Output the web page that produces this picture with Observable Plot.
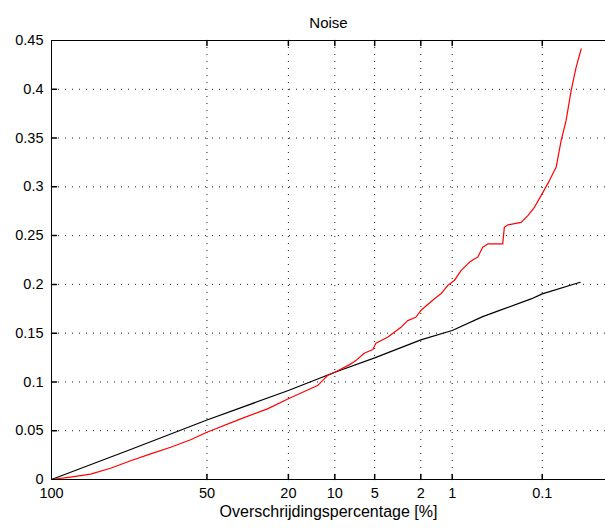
<!DOCTYPE html>
<html>
<head>
<meta charset="utf-8">
<script src="https://cdn.jsdelivr.net/npm/d3@7"></script>
<script src="https://cdn.jsdelivr.net/npm/@observablehq/plot@0.6"></script>
<style>
  html, body { margin: 0; padding: 0; background: white; }
</style>
</head>
<body>
<div id="chart"></div>
<script>
// Exceedance percentages (x) and values (y)
const pctTicks = [100, 50, 20, 10, 5, 2, 1, 0.1];
const pctTickLabels = ["100", "50", "20", "10", "5", "2", "1", "0.1"];
const yTicks = [0, 0.05, 0.1, 0.15, 0.2, 0.25, 0.3, 0.35, 0.4, 0.45];
const yTickLabels = ["0", "0.05", "0.1", "0.15", "0.2", "0.25", "0.3", "0.35", "0.4", "0.45"];

const redPct = [100, 98.97, 95.72, 90.47, 83.58, 75.44, 66.56, 57.38, 50, 35.81, 26.24, 20, 13.13, 12.16, 11.24, 10, 7.88, 7.23, 7.02, 6.05, 5.17, 5.0, 4.89, 3.92, 3.01, 2.63, 2.22, 2.0, 1.50, 1.29, 1.11, 0.953, 0.815, 0.669, 0.593, 0.546, 0.483, 0.426, 0.291, 0.279, 0.255, 0.179, 0.149, 0.1246, 0.1033, 0.0816, 0.0673, 0.0582, 0.0503, 0.0433, 0.0373, 0.032];
const redVal = [0, 0.0025, 0.0055, 0.0115, 0.0192, 0.0263, 0.0331, 0.0407, 0.0485, 0.0622, 0.0724, 0.0827, 0.0963, 0.1014, 0.1066, 0.110, 0.1175, 0.1206, 0.1219, 0.1294, 0.1332, 0.137, 0.1397, 0.1458, 0.1560, 0.1629, 0.1663, 0.1732, 0.1851, 0.1903, 0.1988, 0.2039, 0.2141, 0.2226, 0.2261, 0.2278, 0.2380, 0.2415, 0.2415, 0.2585, 0.2610, 0.2636, 0.2705, 0.2790, 0.2910, 0.3064, 0.3200, 0.3473, 0.3678, 0.3986, 0.4224, 0.4413];

const blackPct = [100, 83.58, 50, 20, 10, 5, 2, 1, 0.483, 0.304, 0.1364, 0.1, 0.033];
const blackVal = [0, 0.0307, 0.0610, 0.0912, 0.1099, 0.1247, 0.1431, 0.1527, 0.1670, 0.1739, 0.1851, 0.1903, 0.2022];

const title = "Noise";
const xLabel = "Overschrijdingspercentage [%]";

// Rayleigh probability transform of the exceedance percentage
const rayleigh = p => Math.sqrt(-Math.log(p / 100));

const red = redPct.map((p, i) => ({p, v: redVal[i]}));
const black = blackPct.map((p, i) => ({p, v: blackVal[i]}));

const tickShape = {draw(context, l) { context.moveTo(0, 0); context.lineTo(0, -l); }};
const labelForX = t => pctTickLabels[pctTicks.findIndex(p => Math.abs(rayleigh(p) - t) < 1e-9)];
const labelForY = v => yTickLabels[yTicks.findIndex(y => Math.abs(y - v) < 1e-9)];

const grid = {stroke: "#000", strokeOpacity: 0.9, strokeWidth: 1, strokeDasharray: "1,6"};

const chart = Plot.plot({
  width: 605,
  height: 529,
  marginTop: 40,
  marginBottom: 50,
  marginLeft: 51,
  marginRight: 0,
  style: {fontFamily: "'Liberation Sans', Arial, sans-serif", fontSize: "15px", background: "white", color: "black"},
  x: {type: "linear", domain: [0, 2.967]},
  y: {domain: [0, 0.45]},
  marks: [
    Plot.ruleX(pctTicks.slice(1), {x: rayleigh, ...grid}),
    Plot.ruleY(yTicks.slice(1, -1), {y: d => d, ...grid}),
    Plot.line(black, {x: d => rayleigh(d.p), y: "v", stroke: "#000", strokeWidth: 1.2}),
    Plot.line(red, {x: d => rayleigh(d.p), y: "v", stroke: "#ff0000", strokeWidth: 1.2}),
    Plot.ruleX([100], {x: rayleigh, stroke: "#000", strokeWidth: 1}),
    Plot.ruleY([0, 0.45], {y: d => d, stroke: "#000", strokeWidth: 1}),
    Plot.vector(pctTicks.slice(1), {x: rayleigh, y: () => 0, length: 5, rotate: 0, anchor: "start", shape: tickShape, stroke: "#000"}),
    Plot.vector(pctTicks.slice(1), {x: rayleigh, y: () => 0.45, length: 5, rotate: 180, anchor: "start", shape: tickShape, stroke: "#000"}),
    Plot.vector(yTicks.slice(1, -1), {x: () => 0, y: d => d, length: 5, rotate: 90, anchor: "start", shape: tickShape, stroke: "#000"}),
    Plot.axisX(pctTicks.map(rayleigh), {tickSize: 0, tickPadding: 8, tickFormat: labelForX, label: null, fontSize: 14.5}),
    Plot.axisY(yTicks, {tickSize: 0, tickPadding: 8, tickFormat: labelForY, label: null, fontSize: 14.5}),
    Plot.text([title], {frameAnchor: "top", dy: -23, fontSize: 15}),
    Plot.text([xLabel], {frameAnchor: "bottom", dy: 37, fontSize: 16})
  ]
});
document.getElementById("chart").appendChild(chart);
</script>
</body>
</html>
